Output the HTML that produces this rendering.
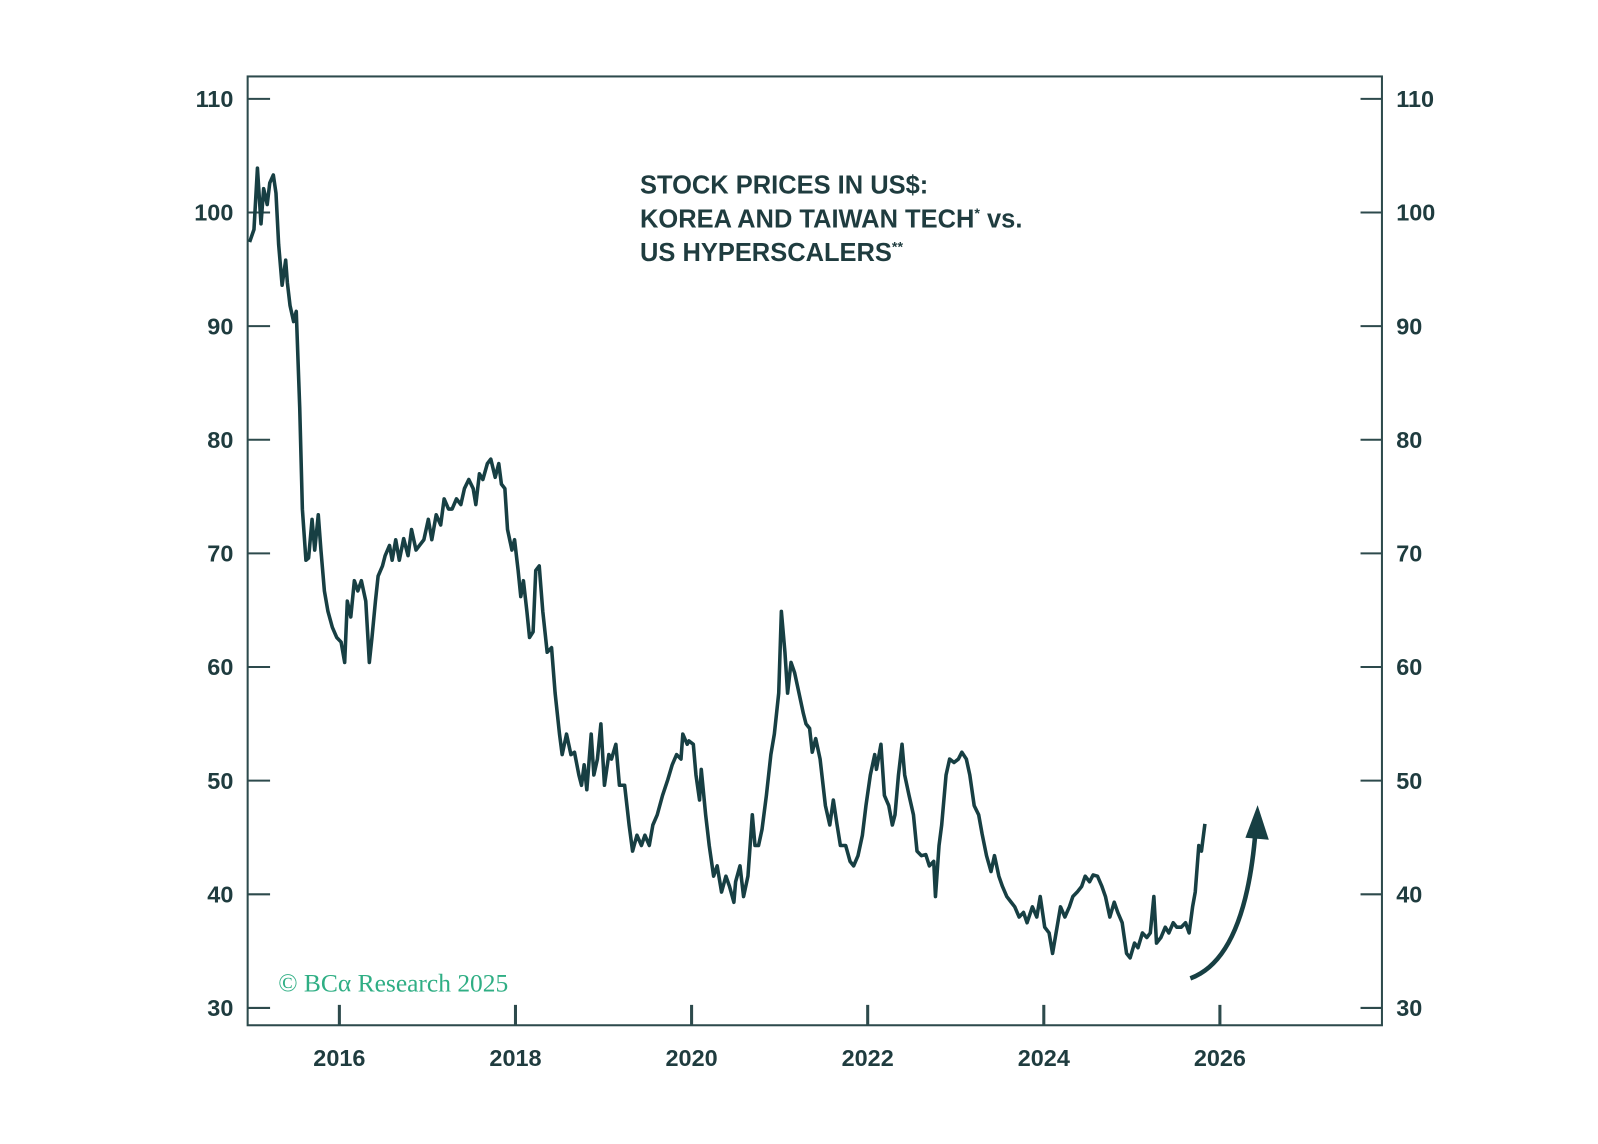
<!DOCTYPE html>
<html><head><meta charset="utf-8">
<style>
html,body{margin:0;padding:0;background:#fff;}
svg{display:block;}
.tk{font-family:"Liberation Sans",sans-serif;font-weight:bold;font-size:23px;fill:#1f3c3f;}
.ttl{font-family:"Liberation Sans",sans-serif;font-weight:bold;font-size:25px;fill:#1f3c3f;}
</style></head>
<body>
<svg id="chart" width="1598" height="1144" viewBox="0 0 1568 1122.5" xmlns="http://www.w3.org/2000/svg">
<rect x="243" y="75" width="1113" height="931" fill="none" stroke="#2d4a4c" stroke-width="2"/>
<g id="yticks"></g>
<g id="xticks"></g>
<text class="ttl" x="628" y="190">STOCK PRICES IN US$:</text>
<text class="ttl" x="628" y="223">KOREA AND TAIWAN TECH<tspan font-size="14" dy="-9">*</tspan><tspan dy="9"> vs.</tspan></text>
<text class="ttl" x="628" y="256">US HYPERSCALERS<tspan font-size="14" dy="-9">**</tspan></text>
<path id="series" fill="none" stroke="#173f43" stroke-width="3.5" stroke-linejoin="round"/>
<path d="M1168,960 Q1222,940 1232,815" fill="none" stroke="#173f43" stroke-width="4.5"/>
<polygon points="1234,790 1222,822 1245,824" fill="#173f43"/>
<text x="273" y="973" font-family="Liberation Serif,serif" font-size="25" fill="#2fae84">© BCα Research 2025</text>
</svg>
<script>
const dates=[2014.98,2015.03,2015.07,2015.11,2015.14,2015.18,2015.21,2015.25,2015.28,2015.31,2015.35,2015.39,2015.41,2015.44,2015.48,2015.51,2015.55,2015.58,2015.62,2015.65,2015.69,2015.72,2015.76,2015.79,2015.83,2015.87,2015.92,2015.97,2016.02,2016.06,2016.09,2016.13,2016.17,2016.21,2016.25,2016.30,2016.34,2016.37,2016.41,2016.44,2016.49,2016.52,2016.57,2016.60,2016.64,2016.68,2016.73,2016.78,2016.82,2016.87,2016.91,2016.96,2017.01,2017.05,2017.10,2017.15,2017.19,2017.24,2017.28,2017.33,2017.38,2017.42,2017.47,2017.52,2017.55,2017.59,2017.63,2017.68,2017.72,2017.77,2017.81,2017.84,2017.88,2017.91,2017.96,2017.99,2018.03,2018.06,2018.09,2018.13,2018.16,2018.20,2018.23,2018.27,2018.31,2018.36,2018.41,2018.45,2018.50,2018.53,2018.58,2018.63,2018.67,2018.72,2018.75,2018.78,2018.81,2018.86,2018.89,2018.93,2018.97,2019.01,2019.06,2019.09,2019.14,2019.18,2019.24,2019.29,2019.33,2019.38,2019.43,2019.47,2019.52,2019.56,2019.61,2019.67,2019.73,2019.78,2019.83,2019.88,2019.90,2019.95,2019.97,2020.02,2020.05,2020.09,2020.11,2020.16,2020.20,2020.25,2020.29,2020.34,2020.39,2020.43,2020.48,2020.50,2020.55,2020.59,2020.64,2020.69,2020.72,2020.76,2020.80,2020.85,2020.90,2020.94,2020.99,2021.02,2021.06,2021.09,2021.13,2021.17,2021.22,2021.27,2021.30,2021.34,2021.37,2021.41,2021.46,2021.52,2021.57,2021.61,2021.65,2021.69,2021.75,2021.80,2021.84,2021.89,2021.94,2021.98,2022.03,2022.08,2022.10,2022.15,2022.19,2022.24,2022.28,2022.31,2022.35,2022.39,2022.42,2022.47,2022.52,2022.56,2022.61,2022.66,2022.70,2022.75,2022.77,2022.81,2022.84,2022.89,2022.93,2022.98,2023.03,2023.07,2023.12,2023.16,2023.21,2023.26,2023.30,2023.35,2023.40,2023.44,2023.49,2023.53,2023.58,2023.63,2023.67,2023.72,2023.77,2023.81,2023.87,2023.92,2023.96,2024.01,2024.06,2024.10,2024.15,2024.19,2024.24,2024.29,2024.33,2024.38,2024.43,2024.47,2024.52,2024.56,2024.61,2024.66,2024.70,2024.75,2024.80,2024.84,2024.89,2024.94,2024.98,2025.03,2025.07,2025.12,2025.17,2025.21,2025.25,2025.28,2025.33,2025.38,2025.42,2025.47,2025.51,2025.56,2025.61,2025.65,2025.69,2025.72,2025.76,2025.79,2025.83];
const values=[97.4,98.5,103.9,99.0,102.1,100.7,102.6,103.3,101.7,97.2,93.6,95.8,93.8,91.8,90.4,91.3,82.8,73.9,69.4,69.6,73.0,70.3,73.4,70.3,66.7,64.9,63.5,62.6,62.2,60.4,65.8,64.4,67.6,66.7,67.6,65.8,60.4,62.6,65.8,68.0,68.9,69.8,70.7,69.4,71.2,69.4,71.3,69.8,72.1,70.3,70.7,71.2,73.0,71.2,73.4,72.5,74.8,73.9,73.9,74.8,74.3,75.7,76.5,75.7,74.3,77.0,76.5,77.9,78.3,76.7,77.9,76.1,75.7,72.1,70.3,71.2,68.5,66.2,67.6,64.9,62.6,63.1,68.5,68.9,64.9,61.3,61.7,57.7,54.1,52.3,54.1,52.3,52.5,50.5,49.6,51.4,49.2,54.1,50.5,51.9,55.0,49.6,52.3,51.9,53.2,49.6,49.6,46.1,43.8,45.2,44.3,45.2,44.3,46.1,47.0,48.7,50.1,51.4,52.3,51.9,54.1,53.2,53.5,53.2,50.5,48.3,51.0,47.0,44.3,41.6,42.5,40.2,41.6,40.7,39.3,41.1,42.5,39.8,41.6,47.0,44.3,44.3,45.7,48.7,52.3,54.1,57.7,64.9,61.3,57.7,60.4,59.5,57.7,55.9,55.0,54.6,52.5,53.7,51.9,47.8,46.1,48.3,46.2,44.3,44.3,42.9,42.5,43.4,45.2,47.8,50.5,52.3,51.0,53.2,48.7,47.8,46.1,47.0,50.5,53.2,50.5,48.7,47.0,43.8,43.4,43.5,42.5,42.9,39.8,44.3,46.1,50.5,51.9,51.6,51.9,52.5,51.9,50.5,47.8,47.0,45.3,43.4,42.0,43.4,41.6,40.7,39.8,39.3,38.9,38.0,38.4,37.5,38.9,38.0,39.8,37.1,36.6,34.8,37.1,38.9,38.0,38.9,39.8,40.2,40.7,41.6,41.1,41.7,41.6,40.7,39.8,38.0,39.3,38.4,37.5,34.8,34.4,35.7,35.3,36.6,36.2,36.6,39.8,35.7,36.2,37.1,36.6,37.5,37.1,37.1,37.5,36.6,38.9,40.2,44.3,43.8,46.2];
const yTickLabels=[30,40,50,60,70,80,90,100,110];
const xTickLabels=[2016,2018,2020,2022,2024,2026];
const NS='http://www.w3.org/2000/svg';
function xs(d){return 333+(d-2016)*86.4;}
function ys(v){return 989-(v-30)*11.15;}
const yg=document.getElementById('yticks');
yTickLabels.forEach(v=>{
  const y=ys(v);
  const l1=document.createElementNS(NS,'line');
  l1.setAttribute('x1',243);l1.setAttribute('x2',265);l1.setAttribute('y1',y);l1.setAttribute('y2',y);
  l1.setAttribute('stroke','#2d4a4c');l1.setAttribute('stroke-width',2);
  
  
  yg.appendChild(l1);
  const l2=document.createElementNS(NS,'line');
  l2.setAttribute('x1',1335);l2.setAttribute('x2',1356);l2.setAttribute('y1',y);l2.setAttribute('y2',y);
  l2.setAttribute('stroke','#2d4a4c');l2.setAttribute('stroke-width',2);
  
  
  yg.appendChild(l2);
  const t1=document.createElementNS(NS,'text');
  t1.setAttribute('x',229);t1.setAttribute('y',y+8);t1.setAttribute('text-anchor','end');t1.setAttribute('class','tk');
  t1.textContent=v;
  
  
  yg.appendChild(t1);
  const t2=document.createElementNS(NS,'text');
  t2.setAttribute('x',1370);t2.setAttribute('y',y+8);t2.setAttribute('class','tk');
  t2.textContent=v;
  
  
  yg.appendChild(t2);
});
const xg=document.getElementById('xticks');
xTickLabels.forEach(d=>{
  const x=xs(d);
  const l=document.createElementNS(NS,'line');
  l.setAttribute('x1',x);l.setAttribute('x2',x);l.setAttribute('y1',986);l.setAttribute('y2',1006);
  l.setAttribute('stroke','#2d4a4c');l.setAttribute('stroke-width',3);
  
  
  xg.appendChild(l);
  const t=document.createElementNS(NS,'text');
  t.setAttribute('x',x);t.setAttribute('y',1046);t.setAttribute('text-anchor','middle');t.setAttribute('class','tk');
  t.textContent=d;
  
  
  xg.appendChild(t);
});
let dstr='';
dates.forEach((d,i)=>{dstr+=(i?'L':'M')+xs(d).toFixed(1)+','+ys(values[i]).toFixed(1);});
document.getElementById('series').setAttribute('d',dstr);
</script>
</body></html>
